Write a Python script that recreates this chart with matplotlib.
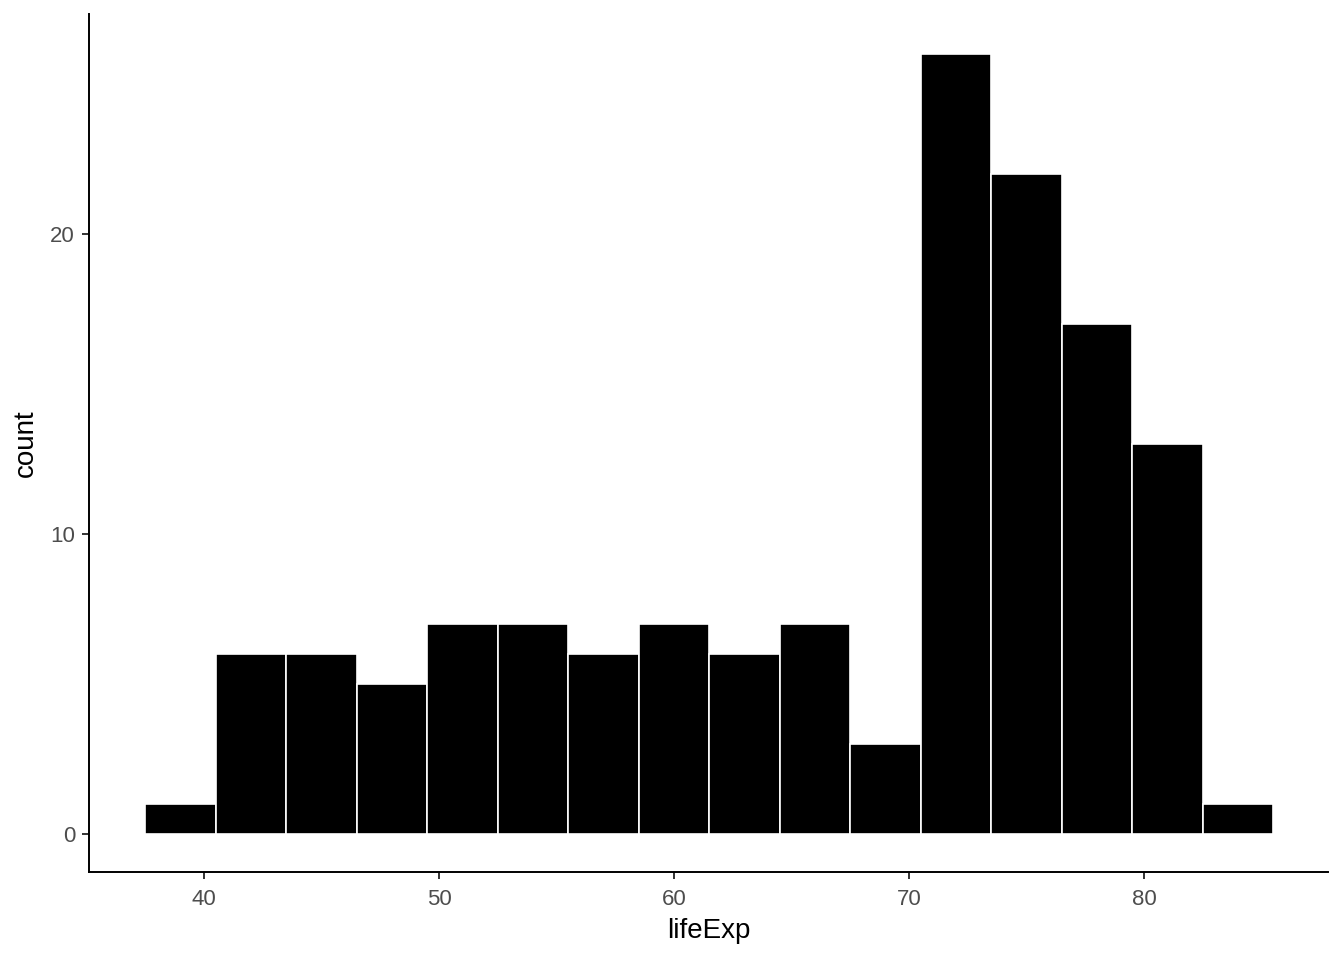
import numpy as np
import matplotlib.pyplot as plt

plt.rcParams["font.family"] = ["Liberation Sans", "DejaVu Sans"]

# histogram of lifeExp, binwidth 3
bin_edges = [37.5, 40.5, 43.5, 46.5, 49.5, 52.5, 55.5, 58.5, 61.5, 64.5,
             67.5, 70.5, 73.5, 76.5, 79.5, 82.5, 85.5]
counts = [1, 6, 6, 5, 7, 7, 6, 7, 6, 7, 3, 26, 22, 17, 13, 1]
x_ticks = [40, 50, 60, 70, 80]
y_ticks = [0, 10, 20]

fig = plt.figure(figsize=(13.44, 9.6), dpi=100)
ax = fig.add_axes([89 / 1344, 1 - 872 / 960, (1328 - 89) / 1344, (872 - 14) / 960])

widths = np.diff(bin_edges)
ax.bar(bin_edges[:-1], counts, width=widths, align="edge",
       color="black", edgecolor="white", linewidth=1.2)

ax.set_xlim(35.1, 87.83)
ax.set_ylim(-1.27, 27.33)
ax.set_xticks(x_ticks)
ax.set_yticks(y_ticks)

for side in ["top", "right"]:
    ax.spines[side].set_visible(False)
for side in ["left", "bottom"]:
    ax.spines[side].set_linewidth(1.4)
    ax.spines[side].set_color("black")

ax.tick_params(axis="both", length=5, width=1.4, color="#333333",
               labelsize=16, labelcolor="#4d4d4d")
ax.tick_params(axis="x", pad=7)
ax.tick_params(axis="y", pad=5)

ax.set_xlabel("lifeExp", fontsize=20, labelpad=6)
ax.set_ylabel("count", fontsize=20, labelpad=8)

fig.savefig("out.png", dpi=100)
